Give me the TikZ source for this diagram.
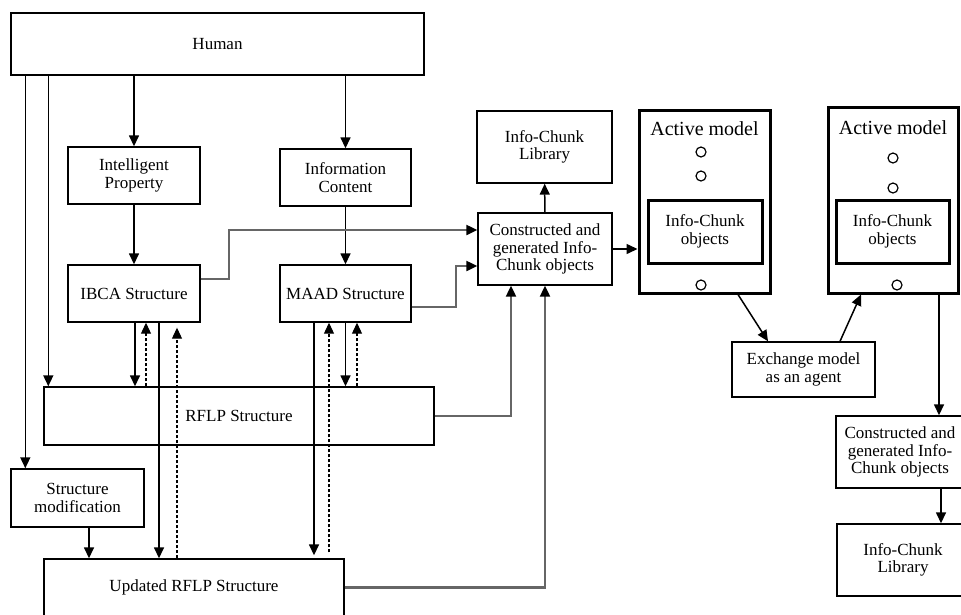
\documentclass[tikz,border=0pt]{standalone}
\usepackage{fontspec}
\setmainfont{Liberation Serif}
\usetikzlibrary{arrows.meta,positioning}

\begin{document}
\begin{tikzpicture}[
  x=1pt,y=-1pt,
  font=\fontsize{17}{17.5}\selectfont,
  box/.style={rectangle,draw=black,line width=1.4pt,align=center,inner sep=0pt},
  ambox/.style={box,line width=3pt},
  arr/.style={-{Triangle[length=11pt,width=10pt]},line width=1.5pt},
  darr/.style={arr,line width=1.1pt,dash pattern=on 3pt off 2pt},
  garr/.style={-{Triangle[length=11pt,width=10pt,color=black]},draw=black!60,line width=2.2pt},
  dot/.style={circle,draw=black,line width=1.2pt,minimum size=10pt,inner sep=0pt}
]
\useasboundingbox (0,0) rectangle (961,614);
\clip (0,0) rectangle (961,614);

% left column
\node[box,minimum width=413pt,minimum height=62pt] (human) at (217.5,44) {Human};
\node[box,minimum width=132pt,minimum height=57pt] (ip) at (134,175.5) {Intelligent\\Property};
\node[box,minimum width=131pt,minimum height=57pt] (ic) at (345.5,177.5) {Information\\Content};
\node[box,minimum width=132pt,minimum height=57pt] (ibca) at (134,293.5) {IBCA Structure};
\node[box,minimum width=131pt,minimum height=57pt] (maad) at (345.5,293.5) {MAAD Structure};
\node[box,minimum width=390pt,minimum height=58pt] (rflp) at (239,416) {RFLP Structure};
\node[box,minimum width=133pt,minimum height=58pt] (sm) at (77.5,498) {Structure\\modification};
\node[box,minimum width=300pt,minimum height=57pt] (upd) at (194,587.5) {Updated RFLP Structure};

% middle
\node[box,minimum width=135pt,minimum height=72pt] (lib1) at (544.5,147) {Info-Chunk\\Library};
\node[box,minimum width=134pt,minimum height=72pt] (cg1) at (545,249) {Constructed and\\generated Info-\\Chunk objects};

% active models
\node[ambox,minimum width=131pt,minimum height=183pt] (am1) at (704.5,201.5) {};
\node[font=\fontsize{20}{20}\selectfont] (am1t) at (704.5,129) {Active model};
\node[dot] (am1a) at (701,152) {};
\node[dot] (am1b) at (701,176) {};
\node[ambox,minimum width=114pt,minimum height=63pt] (obj1) at (705,231.5) {Info-Chunk\\objects};
\node[dot] (am1c) at (701,285) {};

\node[ambox,minimum width=130pt,minimum height=186pt] (am2) at (893,200) {};
\node[font=\fontsize{20}{20}\selectfont] (am2t) at (893,128) {Active model};
\node[dot] (am2a) at (893,158) {};
\node[dot] (am2b) at (893,188) {};
\node[ambox,minimum width=113pt,minimum height=63pt] (obj2) at (892.5,231.5) {Info-Chunk\\objects};
\node[dot] (am2c) at (897,285) {};

\node[box,minimum width=143pt,minimum height=55pt] (exch) at (803.5,369.5) {Exchange model\\as an agent};
\node[box,minimum width=128pt,minimum height=72pt] (cg2) at (900,452) {Constructed and\\generated Info-\\Chunk objects};
\node[box,minimum width=132pt,minimum height=72pt] (lib2) at (903,560) {Info-Chunk\\Library};

% connectors
\draw[arr] (human.south -| ip.north) -- (ip.north);
\draw[arr] (human.south -| ic.north) -- (ic.north);
\draw[arr] (ip) -- (ibca);
\draw[arr] (ic) -- (maad);
\draw[arr] ([xshift=15pt]human.south west) -- ([xshift=15pt]sm.north west);
\draw[arr] ([xshift=38pt]human.south west) -- ([xshift=5pt]rflp.north west);
\draw[arr] ([xshift=11.5pt]sm.south) -- ([xshift=11.5pt]sm.south |- upd.north);

\draw[arr] ([xshift=1pt]ibca.south) -- ([xshift=1pt]ibca.south |- rflp.north);
\draw[darr] ([xshift=12pt]ibca.south |- rflp.north) -- ([xshift=12pt]ibca.south);
\draw[arr] ([xshift=25pt]ibca.south) -- ([xshift=25pt]ibca.south |- upd.north);
\draw[darr] ([xshift=43pt]ibca.south |- upd.north) -- ([xshift=43pt,yshift=-5pt]ibca.south);

\draw[arr] ([xshift=-31.5pt]maad.south) -- ([xshift=-31.5pt,yshift=3pt]maad.south |- upd.north);
\draw[darr] ([xshift=-16.5pt,yshift=6pt]maad.south |- upd.north) -- ([xshift=-16.5pt]maad.south);
\draw[arr] (maad.south) -- (maad.south |- rflp.north);
\draw[darr] ([xshift=11.5pt]maad.south |- rflp.north) -- ([xshift=11.5pt]maad.south);

\draw[garr] ([yshift=14.5pt]ibca.east) -- ++(28,0) |- ([yshift=19pt]cg1.west);
\draw[garr] ([yshift=-13.5pt]maad.east) -- ++(44,0) |- ([yshift=-17pt]cg1.west);
\draw[garr] (rflp.east) -| ([xshift=-34pt]cg1.south);
\draw[garr] (upd.east) -| (cg1.south);

\draw[arr] (cg1) -- (lib1);
\draw[arr] (cg1.east) -- (cg1.east -| am1.west);
\draw[arr] ([xshift=33.5pt]am1.south) -- ([xshift=-35.5pt]exch.north);
\draw[arr] ([xshift=36.5pt]exch.north) -- ([xshift=-32pt]am2.south);
\draw[arr] ([xshift=46pt]am2.south) -- ([xshift=46pt]am2.south |- cg2.north);
\draw[arr] ([xshift=41pt]cg2.south) -- ([xshift=41pt]cg2.south |- lib2.north);
\end{tikzpicture}
\end{document}
